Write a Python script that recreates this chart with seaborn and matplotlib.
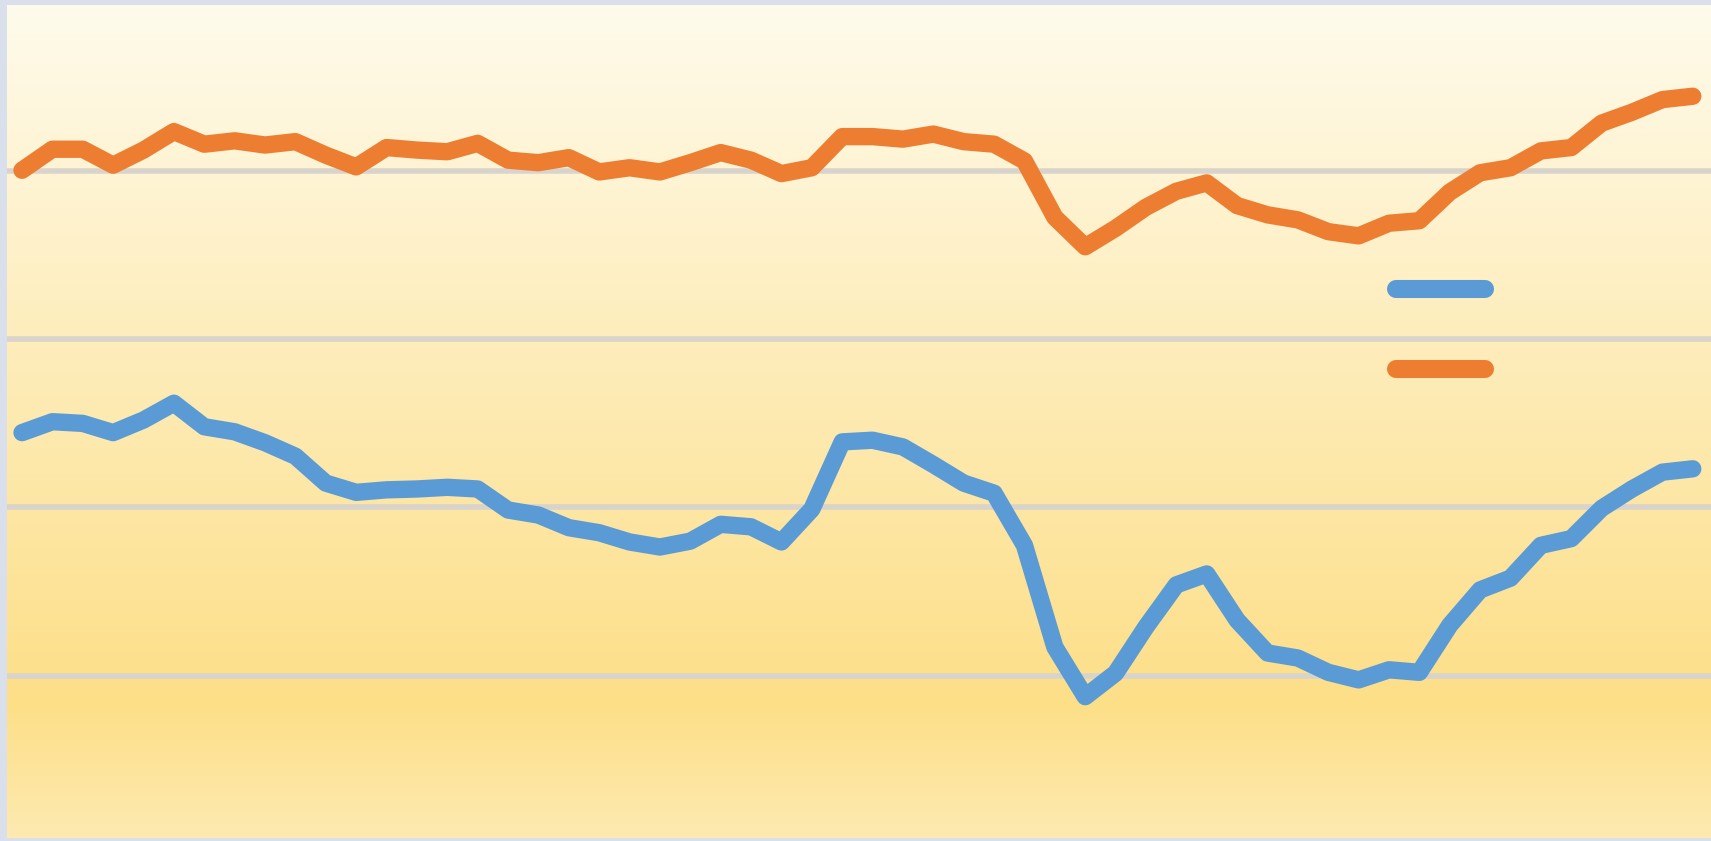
import numpy as np
import pandas as pd
import matplotlib
matplotlib.use("Agg")
import matplotlib.pyplot as plt
from matplotlib.colors import LinearSegmentedColormap
from matplotlib.lines import Line2D
import seaborn as sns

# ── Data (arbitrary units; gridlines every 20) ───────────────────────────────
periods = list(range(56))

series_blue = [
    48.9, 50.2, 50.0, 48.9, 50.4, 52.4, 49.6, 49.0, 47.7, 46.1,
    42.9, 41.8, 42.1, 42.2, 42.4, 42.2, 39.7, 39.1, 37.6, 37.0,
    35.9, 35.3, 36.0, 38.0, 37.7, 35.9, 39.8, 47.8, 48.0, 47.2,
    45.1, 42.9, 41.7, 35.5, 23.4, 17.5, 20.3, 25.8, 30.8, 32.1,
    26.6, 22.7, 22.1, 20.4, 19.5, 20.7, 20.4, 26.0, 30.2, 31.6,
    35.5, 36.3, 39.9, 42.2, 44.2, 44.6,
]

series_orange = [
    80.1, 82.6, 82.6, 80.7, 82.5, 84.7, 83.2, 83.6, 83.1, 83.5,
    81.9, 80.5, 82.8, 82.5, 82.3, 83.3, 81.3, 81.0, 81.6, 79.9,
    80.4, 79.9, 81.0, 82.2, 81.3, 79.7, 80.4, 84.1, 84.1, 83.8,
    84.4, 83.5, 83.2, 81.2, 74.5, 71.0, 73.2, 75.7, 77.6, 78.6,
    75.9, 74.8, 74.2, 72.8, 72.3, 73.8, 74.1, 77.5, 79.8, 80.4,
    82.4, 82.8, 85.7, 87.0, 88.5, 88.9,
]

grid_values = [20, 40, 60, 80]

BLUE   = "#5B9BD5"
ORANGE = "#ED7D31"
BORDER = "#D9E0EC"

df = pd.DataFrame({
    "period": periods * 2,
    "value": series_blue + series_orange,
    "series": ["blue"] * len(periods) + ["orange"] * len(periods),
})

# ── Figure ───────────────────────────────────────────────────────────────────
sns.set_theme(style="white")
W, H = 1711, 841
fig = plt.figure(figsize=(W / 100, H / 100), dpi=100, facecolor=BORDER)
ax = fig.add_axes([7 / W, 3 / H, (W - 7) / W, (H - 8) / H])

xlim = (-0.494, 55.6)
ylim = (0.70, 99.75)

# vertical gradient background
grad = LinearSegmentedColormap.from_list(
    "bg", [(0.0, "#FFFBEC"), (0.35, "#FEEFC2"), (0.62, "#FDE6A2"),
           (0.84, "#FDDF88"), (1.0, "#FEEAB0")])
ax.imshow(np.linspace(0, 1, 256).reshape(-1, 1), cmap=grad, aspect="auto",
          extent=(xlim[0], xlim[1], ylim[0], ylim[1]), origin="upper", zorder=0)

for g in grid_values:
    ax.axhline(g, color="#D8D4CC", linewidth=4, zorder=1)

sns.lineplot(data=df, x="period", y="value", hue="series",
             palette={"blue": BLUE, "orange": ORANGE}, linewidth=12.5,
             solid_capstyle="round", solid_joinstyle="round",
             legend=False, ax=ax, zorder=3)

ax.set_xlim(*xlim)
ax.set_ylim(*ylim)
ax.set_xticks([])
ax.set_yticks([])
ax.set_xlabel("")
ax.set_ylabel("")
for s in ax.spines.values():
    s.set_visible(False)

handles = [Line2D([], [], color=BLUE, linewidth=13, solid_capstyle="round"),
           Line2D([], [], color=ORANGE, linewidth=13, solid_capstyle="round")]
ax.legend(handles, ["", ""], loc="center", bbox_to_anchor=(0.841, 0.609),
          frameon=False, fontsize=20, handlelength=3.2, handletextpad=0,
          labelspacing=1.9, borderpad=0)

fig.savefig("out.png", dpi=100, facecolor=BORDER)
